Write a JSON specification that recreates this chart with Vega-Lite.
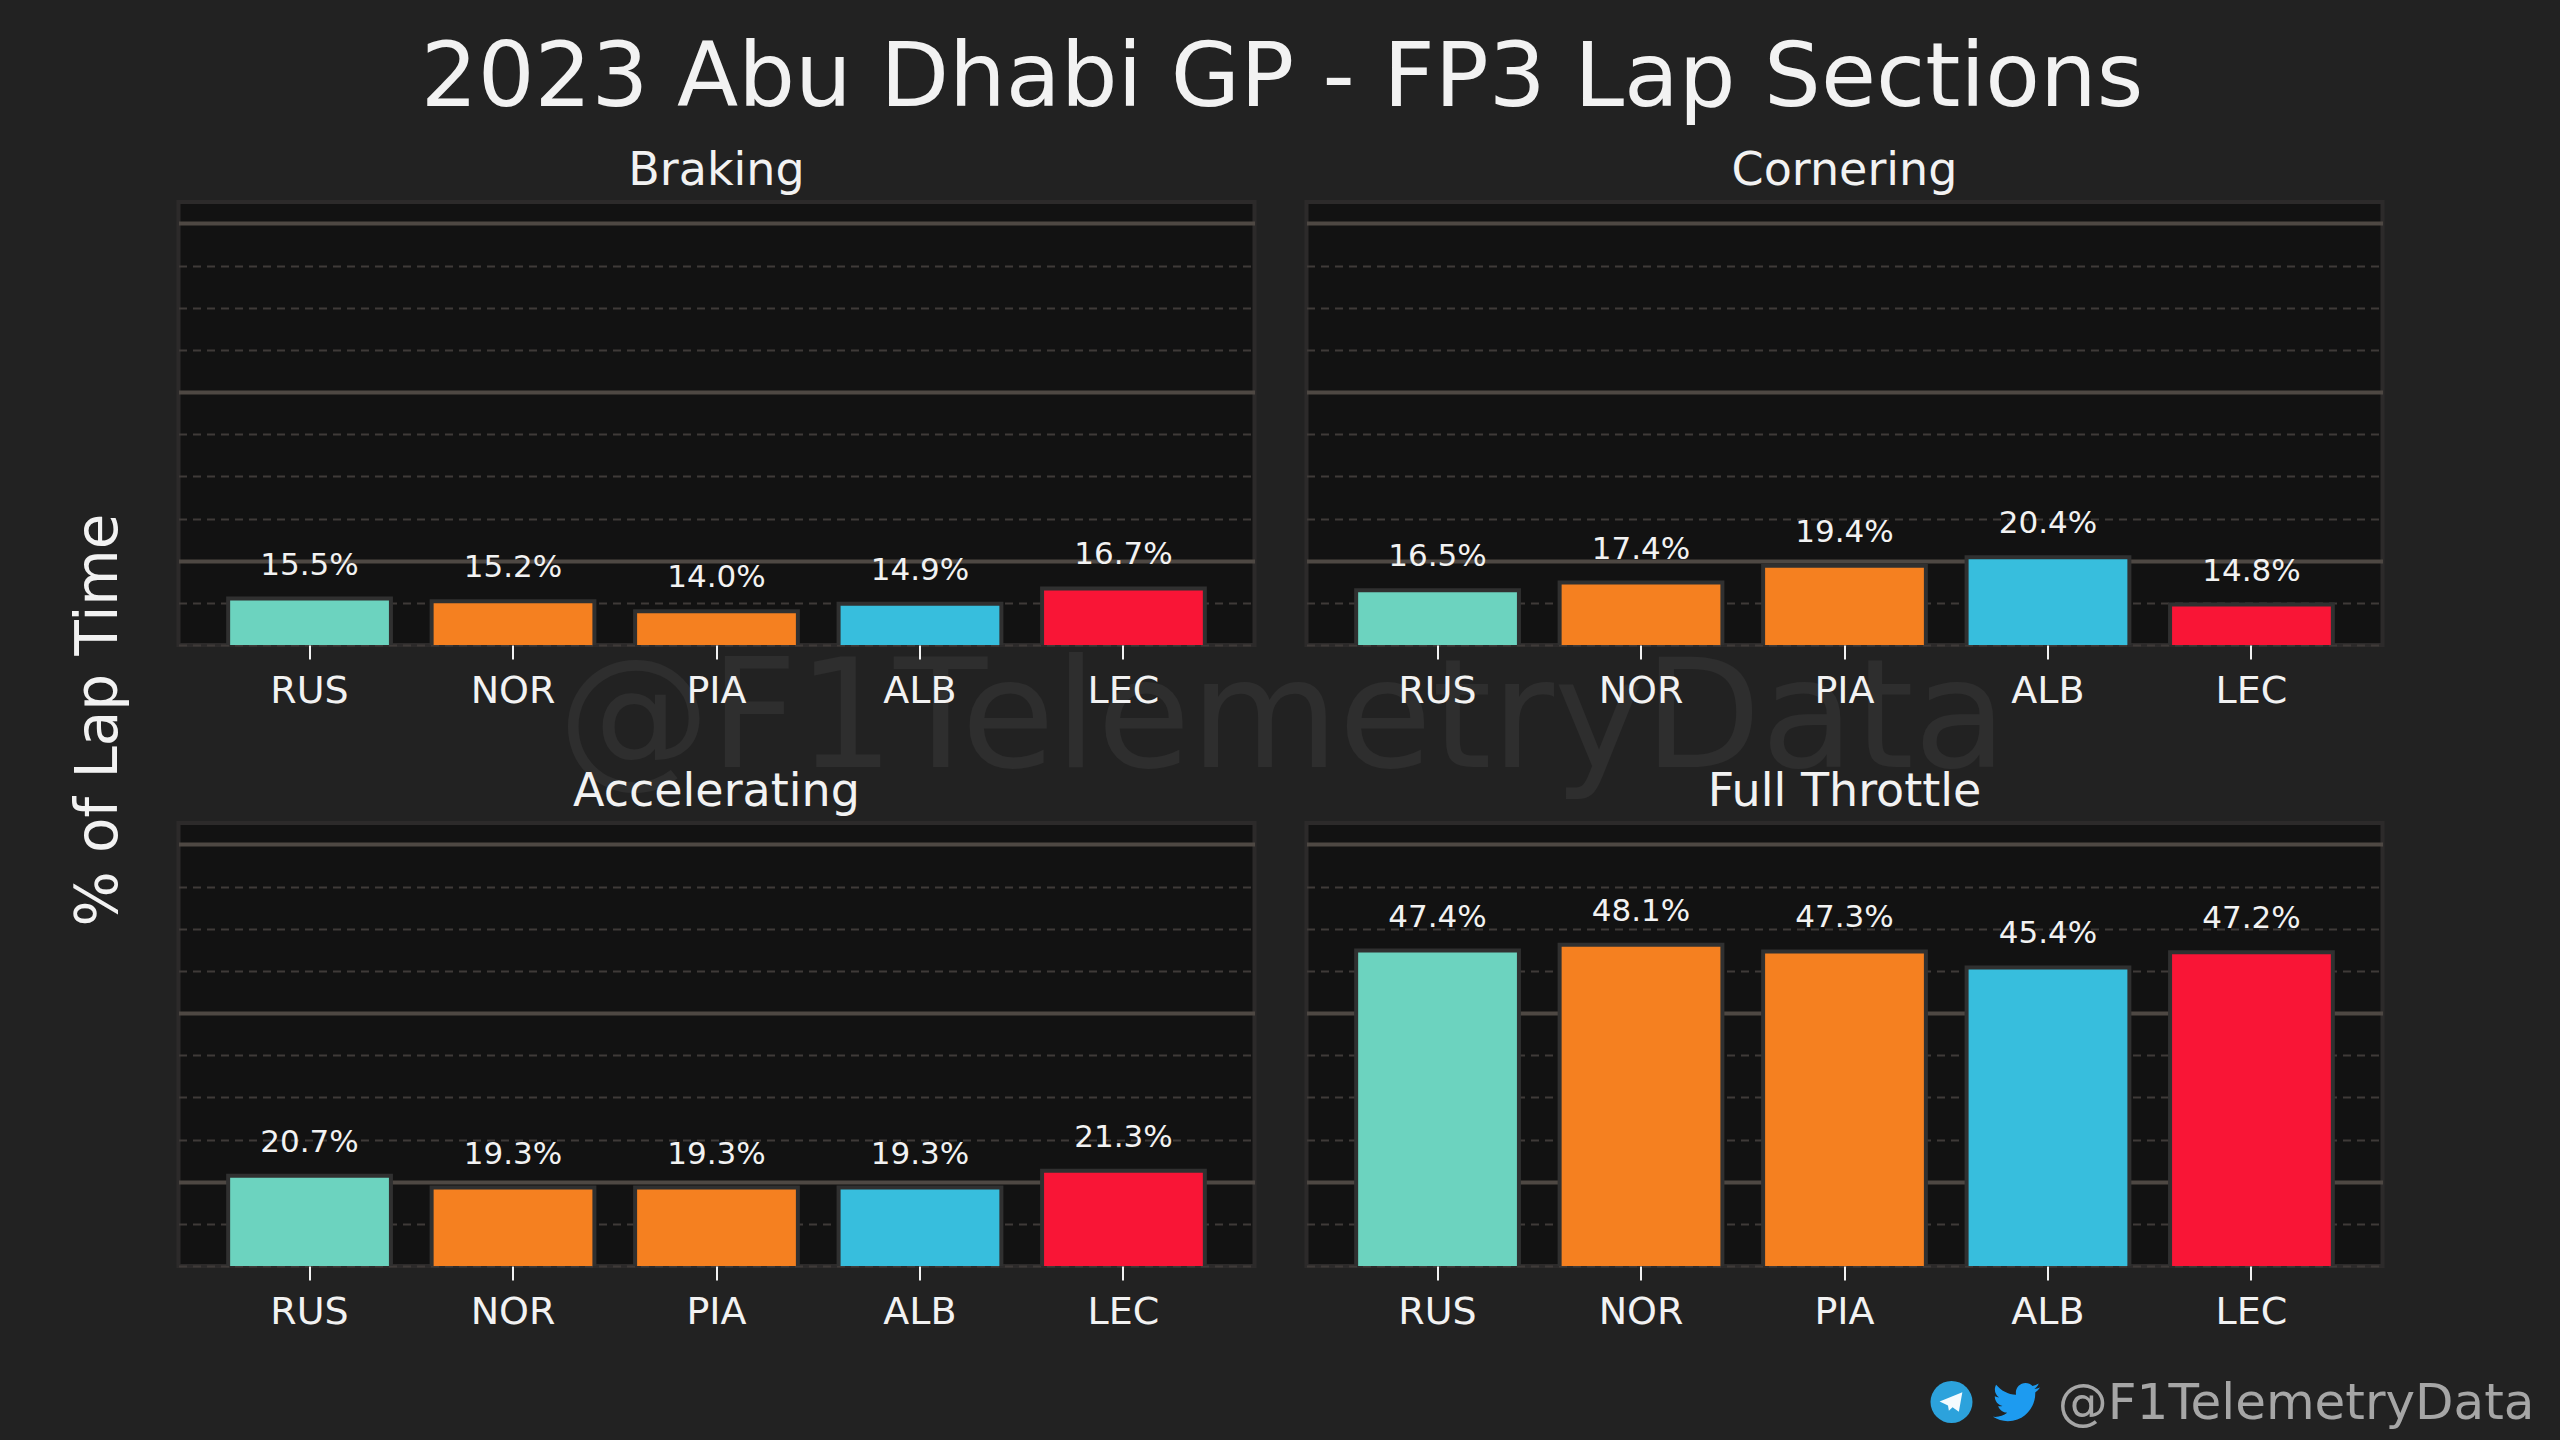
{
  "$schema": "https://vega.github.io/schema/vega-lite/v6.json",
  "background": "#222222",
  "padding": {"left": 68.5, "right": 28, "top": 33, "bottom": 11},
  "title": {"text": "2023 Abu Dhabi GP - FP3 Lap Sections", "font": "DejaVu Sans", "fontSize": 89.5, "fontWeight": "normal", "color": "#f2f2f2", "anchor": "middle", "offset": 22, "dx": -20.5},
  "config": {
    "view": {"fill": "#121212", "stroke": "#2c2a2a", "strokeWidth": 4},
    "title": {"font": "DejaVu Sans", "fontSize": 46, "fontWeight": "normal", "color": "#f2f2f2", "offset": 7},
    "axisX": {"title": null, "grid": false, "domain": false, "labelAngle": 0, "labelFont": "DejaVu Sans", "labelFontSize": 38, "labelColor": "#f2f2f2", "labelPadding": 13, "tickColor": "#f2f2f2", "tickSize": 14, "tickWidth": 2},
    "axisY": {
      "title": null, "labels": false, "ticks": false, "domain": false, "grid": true,
      "values": [0.1, 0.15, 0.2, 0.25, 0.3, 0.35, 0.4, 0.45, 0.5, 0.55, 0.6],
      "gridColor": {"condition": {"test": "round(datum.value * 100) % 20 == 0", "value": "#4e4843"}, "value": "#3f3a38"},
      "gridWidth": {"condition": {"test": "round(datum.value * 100) % 20 == 0", "value": 4}, "value": 2},
      "gridDash": {"condition": {"test": "round(datum.value * 100) % 20 == 0", "value": [1, 0]}, "value": [8, 6]}
    }
  },
  "columns": 2,
  "bounds": "flush",
  "spacing": {"column": 52, "row": 178},
  "concat": [
    {
      "title": "Braking",
      "width": 1076,
      "height": 443,
      "data": {"values": [
        {"driver": "RUS", "share": 0.155},
        {"driver": "NOR", "share": 0.152},
        {"driver": "PIA", "share": 0.14},
        {"driver": "ALB", "share": 0.149},
        {"driver": "LEC", "share": 0.167}
      ]},
      "encoding": {
        "x": {"field": "driver", "type": "nominal", "scale": {"domain": ["RUS", "NOR", "PIA", "ALB", "LEC"], "paddingInner": 0.2, "paddingOuter": 0.244}},
        "y": {"field": "share", "type": "quantitative", "scale": {"domain": [0.1, 0.6253]}}
      },
      "layer": [
        {
          "mark": {"type": "bar", "clip": true, "stroke": "#303030", "strokeWidth": 4},
          "encoding": {"color": {"field": "driver", "type": "nominal", "legend": null, "scale": {"domain": ["RUS", "NOR", "PIA", "ALB", "LEC"], "range": ["#6CD3BF", "#F58020", "#F58020", "#37BEDD", "#F91536"]}}}
        },
        {
          "mark": {"type": "text", "font": "DejaVu Sans", "fontSize": 31, "color": "#f2f2f2", "baseline": "middle", "dy": -33},
          "encoding": {"text": {"field": "share", "type": "quantitative", "format": ".1%"}}
        },
        {
          "data": {"values": [{"note": "@F1TelemetryData"}]},
          "mark": {"type": "text", "font": "DejaVu Sans", "fontSize": 152, "color": "#ffffff", "opacity": 0.05, "align": "center", "baseline": "middle"},
          "encoding": {"x": {"value": 1104}, "y": {"value": 519}, "text": {"field": "note"}}
        },
        {
          "data": {"values": [{"note": "% of Lap Time"}]},
          "mark": {"type": "text", "font": "DejaVu Sans", "fontSize": 58, "color": "#f2f2f2", "angle": 270, "align": "center", "baseline": "middle"},
          "encoding": {"x": {"value": -79}, "y": {"value": 518}, "text": {"field": "note"}}
        }
      ]
    },
    {
      "title": "Cornering",
      "width": 1076,
      "height": 443,
      "data": {"values": [
        {"driver": "RUS", "share": 0.165},
        {"driver": "NOR", "share": 0.174},
        {"driver": "PIA", "share": 0.194},
        {"driver": "ALB", "share": 0.204},
        {"driver": "LEC", "share": 0.148}
      ]},
      "encoding": {
        "x": {"field": "driver", "type": "nominal", "scale": {"domain": ["RUS", "NOR", "PIA", "ALB", "LEC"], "paddingInner": 0.2, "paddingOuter": 0.244}},
        "y": {"field": "share", "type": "quantitative", "scale": {"domain": [0.1, 0.6253]}}
      },
      "layer": [
        {
          "mark": {"type": "bar", "clip": true, "stroke": "#303030", "strokeWidth": 4},
          "encoding": {"color": {"field": "driver", "type": "nominal", "legend": null, "scale": {"domain": ["RUS", "NOR", "PIA", "ALB", "LEC"], "range": ["#6CD3BF", "#F58020", "#F58020", "#37BEDD", "#F91536"]}}}
        },
        {
          "mark": {"type": "text", "font": "DejaVu Sans", "fontSize": 31, "color": "#f2f2f2", "baseline": "middle", "dy": -33},
          "encoding": {"text": {"field": "share", "type": "quantitative", "format": ".1%"}}
        }
      ]
    },
    {
      "title": "Accelerating",
      "width": 1076,
      "height": 443,
      "data": {"values": [
        {"driver": "RUS", "share": 0.207},
        {"driver": "NOR", "share": 0.193},
        {"driver": "PIA", "share": 0.193},
        {"driver": "ALB", "share": 0.193},
        {"driver": "LEC", "share": 0.213}
      ]},
      "encoding": {
        "x": {"field": "driver", "type": "nominal", "scale": {"domain": ["RUS", "NOR", "PIA", "ALB", "LEC"], "paddingInner": 0.2, "paddingOuter": 0.244}},
        "y": {"field": "share", "type": "quantitative", "scale": {"domain": [0.1, 0.6253]}}
      },
      "layer": [
        {
          "mark": {"type": "bar", "clip": true, "stroke": "#303030", "strokeWidth": 4},
          "encoding": {"color": {"field": "driver", "type": "nominal", "legend": null, "scale": {"domain": ["RUS", "NOR", "PIA", "ALB", "LEC"], "range": ["#6CD3BF", "#F58020", "#F58020", "#37BEDD", "#F91536"]}}}
        },
        {
          "mark": {"type": "text", "font": "DejaVu Sans", "fontSize": 31, "color": "#f2f2f2", "baseline": "middle", "dy": -33},
          "encoding": {"text": {"field": "share", "type": "quantitative", "format": ".1%"}}
        }
      ]
    },
    {
      "title": "Full Throttle",
      "width": 1076,
      "height": 443,
      "data": {"values": [
        {"driver": "RUS", "share": 0.474},
        {"driver": "NOR", "share": 0.481},
        {"driver": "PIA", "share": 0.473},
        {"driver": "ALB", "share": 0.454},
        {"driver": "LEC", "share": 0.472}
      ]},
      "encoding": {
        "x": {"field": "driver", "type": "nominal", "scale": {"domain": ["RUS", "NOR", "PIA", "ALB", "LEC"], "paddingInner": 0.2, "paddingOuter": 0.244}},
        "y": {"field": "share", "type": "quantitative", "scale": {"domain": [0.1, 0.6253]}}
      },
      "layer": [
        {
          "mark": {"type": "bar", "clip": true, "stroke": "#303030", "strokeWidth": 4},
          "encoding": {"color": {"field": "driver", "type": "nominal", "legend": null, "scale": {"domain": ["RUS", "NOR", "PIA", "ALB", "LEC"], "range": ["#6CD3BF", "#F58020", "#F58020", "#37BEDD", "#F91536"]}}}
        },
        {
          "mark": {"type": "text", "font": "DejaVu Sans", "fontSize": 31, "color": "#f2f2f2", "baseline": "middle", "dy": -33},
          "encoding": {"text": {"field": "share", "type": "quantitative", "format": ".1%"}}
        },
        {
          "data": {"values": [{"note": "@F1TelemetryData"}]},
          "mark": {"type": "text", "font": "DejaVu Sans", "fontSize": 50, "color": "#a6a6a6", "align": "right", "baseline": "middle"},
          "encoding": {"x": {"value": 1228}, "y": {"value": 581}, "text": {"field": "note"}}
        },
        {
          "data": {"values": [{"icon": "telegram"}]},
          "mark": {"type": "point", "shape": "circle", "filled": true, "size": 1764, "color": "#2ca2dc", "opacity": 1},
          "encoding": {"x": {"value": 645}, "y": {"value": 579}}
        },
        {
          "data": {"values": [{"icon": "telegram plane"}]},
          "mark": {"type": "point", "shape": "M-6.8 -0.3 L6.2 -5.6 L4.2 5.6 L0.6 3 L-1.5 5 L-2 2 Z", "filled": true, "size": 12.25, "color": "#ffffff", "opacity": 0.95},
          "encoding": {"x": {"value": 645}, "y": {"value": 579}}
        },
        {
          "data": {"values": [{"icon": "twitter"}]},
          "mark": {"type": "point", "shape": "M11.95 -7.43 C11.07 -7.04 10.13 -6.78 9.13 -6.66 C10.14 -7.26 10.92 -8.22 11.29 -9.38 C10.34 -8.82 9.29 -8.42 8.16 -8.19 C7.27 -9.14 6 -9.73 4.6 -9.73 C1.88 -9.73 -0.33 -7.53 -0.33 -4.81 C-0.33 -4.42 -0.29 -4.05 -0.21 -3.71 C-4.31 -3.9 -7.93 -5.87 -10.36 -8.84 C-10.78 -8.11 -11.03 -7.27 -11.03 -6.36 C-11.03 -4.65 -10.16 -3.15 -8.84 -2.27 C-9.65 -2.29 -10.4 -2.52 -11.07 -2.88 L-11.07 -2.82 C-11.07 -0.43 -9.37 1.55 -7.12 2 C-7.84 2.2 -8.6 2.23 -9.34 2.09 C-8.7 4.05 -6.89 5.47 -4.73 5.51 C-6.42 6.83 -8.54 7.61 -10.83 7.61 C-11.22 7.61 -11.61 7.59 -12 7.55 C-9.81 8.95 -7.22 9.76 -4.44 9.76 C4.61 9.76 9.56 2.26 9.56 -4.22 C9.56 -4.43 9.56 -4.64 9.54 -4.85 C10.5 -5.55 11.34 -6.41 12 -7.41 Z", "filled": true, "size": 15.4, "color": "#1d9bf0", "opacity": 1},
          "encoding": {"x": {"value": 710}, "y": {"value": 579}}
        }
      ]
    }
  ],
  "resolve": {"scale": {"x": "independent", "y": "independent", "color": "independent"}}
}
